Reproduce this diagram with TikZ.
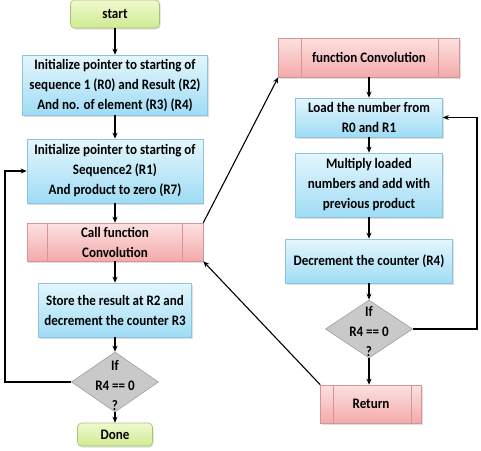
\documentclass[tikz,border=0pt]{standalone}
\usepackage{fontspec}
\setmainfont{Carlito}[FakeStretch=0.9]
\usetikzlibrary{shapes.geometric,arrows.meta,shadows}
\definecolor{bluetop}{HTML}{E4F6FD}
\definecolor{bluebot}{HTML}{9FDCF5}
\definecolor{blueedge}{HTML}{8CC4DE}
\definecolor{pinktop}{HTML}{FCE1E1}
\definecolor{pinkbot}{HTML}{F4AAAA}
\definecolor{pinkedge}{HTML}{D89494}
\definecolor{greentop}{HTML}{F0F9CF}
\definecolor{greenbot}{HTML}{D0EA93}
\definecolor{greenedge}{HTML}{A9C46E}
\definecolor{grayfill}{HTML}{C9C9C9}
\definecolor{grayedge}{HTML}{9E9E9E}
\begin{document}
\begin{tikzpicture}[x=1pt,y=-1pt,
  font=\fontsize{14.5}{20}\selectfont\bfseries,
  base/.style={draw, line width=0.6pt, align=center, inner sep=0pt,
    drop shadow={opacity=0.25,shadow xshift=1pt,shadow yshift=-1.5pt}},
  bluebox/.style={base, draw=blueedge, top color=bluetop, bottom color=bluebot},
  pinkbox/.style={base, draw=pinkedge, top color=pinktop, bottom color=pinkbot},
  greenbox/.style={base, rounded corners=4pt, draw=greenedge, top color=greentop, bottom color=greenbot},
  decision/.style={diamond, draw=grayedge, line width=0.6pt, fill=grayfill, inner sep=0pt},
  divider/.style={draw=pinkedge, line width=0.6pt},
  arr/.style={draw=black, line width=1.1pt, -{Stealth[length=6pt,width=5pt]}}
]
\useasboundingbox (0,0) rectangle (481,450);

% left column
\node[greenbox, minimum width=89pt, minimum height=28pt] (start) at (115,14) {start};
\node[bluebox, minimum width=185pt, minimum height=60pt] (b1) at (115,85)
  {Initialize pointer to starting of\\sequence 1 (R0) and Result (R2)\\And no. of element (R3) (R4)};
\node[bluebox, minimum width=176pt, minimum height=64pt] (b2) at (115,171)
  {Initialize pointer to starting of\\Sequence2 (R1)\\And product to zero (R7)};
\node[pinkbox, minimum width=176pt, minimum height=38pt] (call) at (115,242)
  {Call function\\Convolution};
\draw[divider] ([xshift=21pt]call.north west) -- ([xshift=21pt]call.south west);
\draw[divider] ([xshift=-21pt]call.north east) -- ([xshift=-21pt]call.south east);
\node[bluebox, minimum width=153pt, minimum height=54pt] (store) at (115,310)
  {Store the result at R2 and\\decrement the counter R3};
\node[decision, minimum width=87pt, minimum height=60pt] (d1) at (115,382) {};
\node[align=center, inner sep=0pt] (d1t) at (115,386) {If\\R4 == 0\\?};
\node[greenbox, minimum width=75pt, minimum height=23pt] (done) at (115,434.5) {Done};

% right column
\node[pinkbox, minimum width=181pt, minimum height=39pt] (fc) at (369,57.5) {function Convolution};
\draw[divider] ([xshift=23pt]fc.north west) -- ([xshift=23pt]fc.south west);
\draw[divider] ([xshift=-22pt]fc.north east) -- ([xshift=-22pt]fc.south east);
\node[bluebox, minimum width=147pt, minimum height=39pt] (load) at (369,117.5)
  {Load the number from\\R0 and R1};
\node[bluebox, minimum width=147pt, minimum height=64pt] (mult) at (369,185)
  {Multiply loaded\\numbers and add with\\previous product};
\node[bluebox, minimum width=167pt, minimum height=44pt] (dec) at (369,261)
  {Decrement the counter (R4)};
\node[decision, minimum width=87pt, minimum height=58pt] (d2) at (369,329) {};
\node[align=center, inner sep=0pt] (d2t) at (369,332) {If\\R4 == 0\\?};
\node[pinkbox, minimum width=101pt, minimum height=38pt] (ret) at (371,404) {Return};
\draw[divider] ([xshift=13pt]ret.north west) -- ([xshift=13pt]ret.south west);
\draw[divider] ([xshift=-11pt]ret.north east) -- ([xshift=-11pt]ret.south east);

\coordinate (lx) at (5,0);
\coordinate (rx) at (477,0);

% connectors
\draw[arr] (start) -- (b1);
\draw[arr] (b1) -- (b2);
\draw[arr] (b2) -- (call);
\draw[arr] (call) -- (store);
\draw[arr] (store) -- (d1.north);
\draw[arr] (d1.south) -- (done);
\draw[arr] (d1.west) -- (d1.west -| lx) -- (b2.west -| lx) -- (b2.west);
\draw[arr] (call.north east) -- (fc.south west);
\draw[arr] (ret.north west) -- (call.south east);
\draw[arr] (fc) -- (load);
\draw[arr] (load) -- (mult);
\draw[arr] (mult) -- (dec);
\draw[arr] (dec) -- (d2.north);
\draw[arr] (d2.south) -- (d2.south |- ret.north);
\draw[arr] (d2.east) -- (d2.east -| rx) -- (load.east -| rx) -- (load.east);
\end{tikzpicture}
\end{document}
